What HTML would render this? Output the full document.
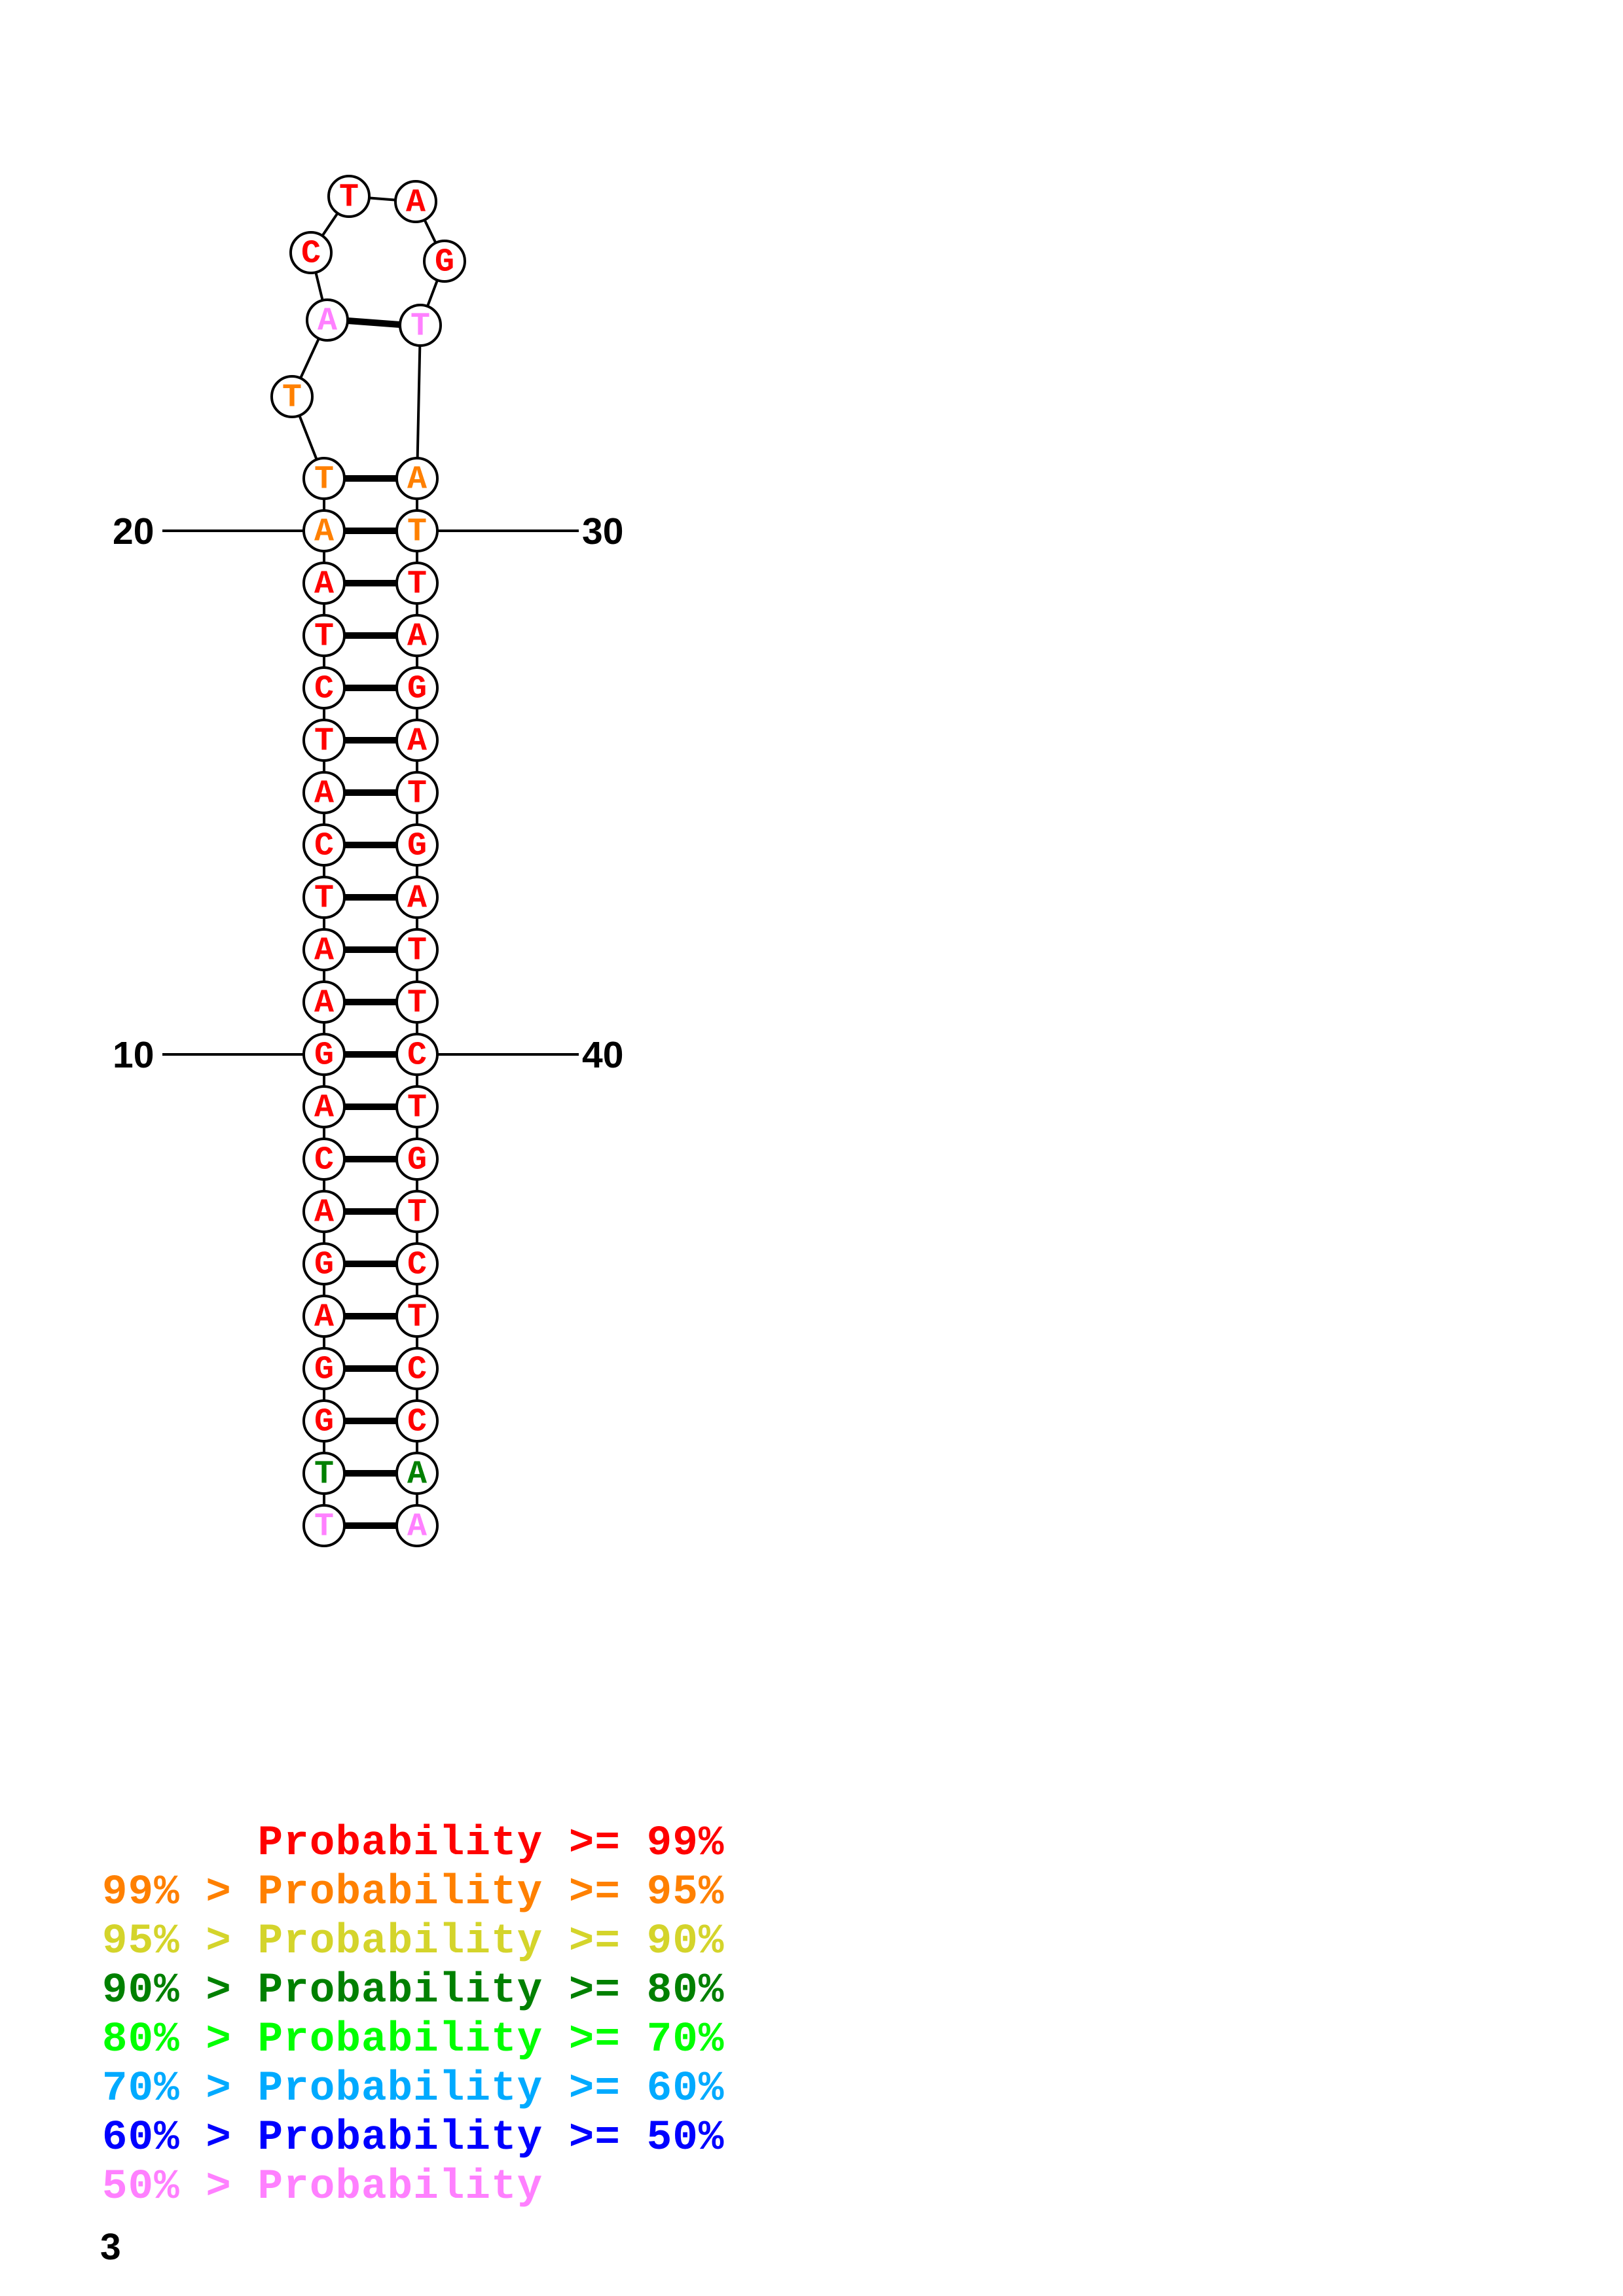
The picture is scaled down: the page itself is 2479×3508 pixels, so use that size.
<!DOCTYPE html>
<html><head><meta charset="utf-8"><style>
html,body{margin:0;padding:0;background:#fff;}
svg{display:block;}
.n{font-family:"Liberation Mono",monospace;font-weight:bold;font-size:50px;text-anchor:middle;dominant-baseline:central;}
.l{font-family:"Liberation Sans",sans-serif;font-weight:bold;font-size:57px;}
.g{font-family:"Liberation Mono",monospace;font-weight:bold;font-size:64px;white-space:pre;letter-spacing:1.2px;}
</style></head><body>
<svg width="2479" height="3508" viewBox="0 0 2479 3508" xmlns="http://www.w3.org/2000/svg">
<g stroke="#000" stroke-width="4">
<line x1="248" y1="811" x2="464" y2="811"/>
<line x1="668" y1="811" x2="884" y2="811"/>
<line x1="248" y1="1611" x2="464" y2="1611"/>
<line x1="668" y1="1611" x2="884" y2="1611"/>
<line x1="495" y1="731" x2="495" y2="2331"/>
<line x1="637" y1="731" x2="637" y2="2331"/>
<polyline fill="none" points="495,731 446,606 500,489 475,386 533,300 635,308 679,399 642,497 637,731"/>
</g>
<g stroke="#000" stroke-width="10" id="bp"></g>
<text class="l" x="172" y="831">20</text>
<text class="l" x="889" y="831">30</text>
<text class="l" x="172" y="1631">10</text>
<text class="l" x="889" y="1631">40</text>
<g id="nodes"></g>
<text class="g" x="156" y="2833" fill="#ff0000">      Probability &gt;= 99%</text>
<text class="g" x="156" y="2908" fill="#ff8000">99% &gt; Probability &gt;= 95%</text>
<text class="g" x="156" y="2983" fill="#d4d42b">95% &gt; Probability &gt;= 90%</text>
<text class="g" x="156" y="3058" fill="#008000">90% &gt; Probability &gt;= 80%</text>
<text class="g" x="156" y="3133" fill="#00ff00">80% &gt; Probability &gt;= 70%</text>
<text class="g" x="156" y="3208" fill="#00aaff">70% &gt; Probability &gt;= 60%</text>
<text class="g" x="156" y="3283" fill="#0000ff">60% &gt; Probability &gt;= 50%</text>
<text class="g" x="156" y="3358" fill="#ff80ff">50% &gt; Probability</text>
<text class="l" x="153" y="3452">3</text>
</svg>
<script>
var NS="http://www.w3.org/2000/svg";
var R="#ff0000",O="#ff8000",G="#008000",P="#ff80ff";
var L="TAATCTACTAAGACAGAGGTT",Rt="ATTAGATGATTCTGTCTCCAA";
var nodes=[],bp=document.getElementById("bp"),ng=document.getElementById("nodes");
for(var i=0;i<21;i++){
 var y=731+i*80;
 var cl=i<2?O:(i==19?G:(i==20?P:R));
 nodes.push([495,y,L[i],cl]);nodes.push([637,y,Rt[i],cl]);
 var ln=document.createElementNS(NS,"line");ln.setAttribute("x1",526);ln.setAttribute("x2",606);ln.setAttribute("y1",y);ln.setAttribute("y2",y);bp.appendChild(ln);
}
var ln=document.createElementNS(NS,"line");ln.setAttribute("x1",531);ln.setAttribute("y1",490);ln.setAttribute("x2",611);ln.setAttribute("y2",496);bp.appendChild(ln);
nodes.push([446,606,"T",O],[500,489,"A",P],[475,386,"C",R],[533,300,"T",R],[635,308,"A",R],[679,399,"G",R],[642,497,"T",P]);
nodes.forEach(function(n){
 var c=document.createElementNS(NS,"circle");c.setAttribute("cx",n[0]);c.setAttribute("cy",n[1]);c.setAttribute("r",31);c.setAttribute("fill","#fff");c.setAttribute("stroke","#000");c.setAttribute("stroke-width",4);ng.appendChild(c);
 var t=document.createElementNS(NS,"text");t.setAttribute("class","n");t.setAttribute("x",n[0]);t.setAttribute("y",n[1]+2);t.setAttribute("fill",n[3]);t.textContent=n[2];ng.appendChild(t);
});
</script>
</body></html>
